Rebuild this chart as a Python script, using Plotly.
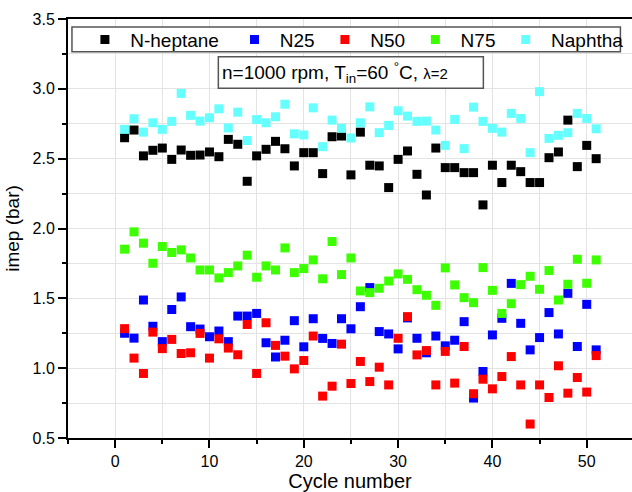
import plotly.graph_objects as go

cycles = [1, 2, 3, 4, 5, 6, 7, 8, 9, 10, 11, 12, 13, 14, 15, 16, 17, 18, 19, 20,
          21, 22, 23, 24, 25, 26, 27, 28, 29, 30, 31, 32, 33, 34, 35, 36, 37, 38, 39, 40,
          41, 42, 43, 44, 45, 46, 47, 48, 49, 50, 51]

heptane = [2.65, 2.705, 2.52, 2.56, 2.576, 2.495, 2.562, 2.524, 2.526, 2.548,
           2.514, 2.638, 2.603, 2.338, 2.52, 2.567, 2.624, 2.571, 2.448, 2.543,
           2.543, 2.393, 2.657, 2.662, 2.384, 2.69, 2.453, 2.448, 2.293, 2.495,
           2.555, 2.388, 2.24, 2.576, 2.436, 2.436, 2.40, 2.40, 2.169, 2.453,
           2.329, 2.453, 2.407, 2.329, 2.329, 2.507, 2.548, 2.776, 2.443, 2.595, 2.50]

n25 = [1.25, 1.215, 1.488, 1.30, 1.19, 1.42, 1.51, 1.297, 1.28, 1.225,
       1.266, 1.19, 1.373, 1.373, 1.392, 1.182, 1.08, 1.20, 1.34, 1.153,
       1.354, 1.213, 1.177, 1.354, 1.282, 1.44, 1.577, 1.262, 1.245, 1.138,
       1.36, 1.214, 1.11, 1.23, 1.16, 1.20, 1.333, 0.786, 0.976, 1.238,
       1.357, 1.607, 1.321, 1.131, 1.219, 1.398, 1.245, 1.536, 1.155, 1.457, 1.131]

n50 = [1.283, 1.072, 0.962, 1.258, 1.14, 1.206, 1.105, 1.11, 1.249, 1.072,
       1.21, 1.144, 1.096, 1.313, 0.962, 1.325, 1.163, 1.086, 0.995, 1.055,
       1.23, 0.80, 0.871, 1.172, 0.89, 1.048, 0.904, 1.007, 0.88, 1.214,
       1.369, 1.095, 1.126, 0.88, 1.12, 0.893, 1.155, 0.817, 0.921, 0.852,
       0.94, 1.083, 0.88, 0.60, 0.88, 0.79, 1.017, 0.821, 0.933, 0.829, 1.09]

n75 = [1.852, 1.976, 1.895, 1.751, 1.871, 1.828, 1.847, 1.789, 1.703, 1.703,
       1.646, 1.684, 1.732, 1.809, 1.651, 1.732, 1.703, 1.861, 1.684, 1.713,
       1.775, 1.64, 1.907, 1.670, 1.789, 1.553, 1.541, 1.572, 1.624, 1.675,
       1.636, 1.562, 1.522, 1.450, 1.718, 1.596, 1.505, 1.469, 1.720, 1.557,
       1.392, 1.462, 1.598, 1.658, 1.565, 1.699, 1.488, 1.601, 1.78, 1.608, 1.775]

naphtha = [2.71, 2.786, 2.69, 2.757, 2.71, 2.767, 2.967, 2.81, 2.769, 2.793,
           2.857, 2.72, 2.833, 2.63, 2.78, 2.757, 2.80, 2.89, 2.678, 2.67,
           2.864, 2.586, 2.776, 2.717, 2.648, 2.757, 2.871, 2.686, 2.738, 2.843,
           2.805, 2.767, 2.769, 2.705, 2.595, 2.781, 2.572, 2.869, 2.767, 2.717,
           2.69, 2.824, 2.788, 2.543, 2.98, 2.645, 2.667, 2.686, 2.824, 2.788, 2.714]

series_names = ["N-heptane", "N25", "N50", "N75", "Naphtha"]
series_values = [heptane, n25, n50, n75, naphtha]
series_colors = ["#000000", "#0000FF", "#FF0000", "#3CFF00", "#66FFFF"]
legend_pad_after = [2, 1, 1, 1, 0]

FONT = "Liberation Sans, Arial, sans-serif"
NB = "\u00a0"

fig = go.Figure()
for name, vals, col, pad in zip(series_names, series_values, series_colors, legend_pad_after):
    fig.add_trace(go.Scatter(
        x=cycles, y=vals, mode="markers", name=NB + name + NB * pad,
        marker=dict(symbol="square", size=9, color=col, line=dict(width=0)),
    ))

grid_col = "#E3E3E3"
fig.update_xaxes(
    range=[-5, 54.8], showline=True, linewidth=2, linecolor="black", mirror=True,
    tickmode="linear", tick0=0, dtick=10, ticks="outside", ticklen=8, tickwidth=2,
    tickcolor="black", showgrid=True, gridcolor=grid_col, gridwidth=1, zeroline=False,
    minor=dict(tick0=0, dtick=5, ticks="outside", ticklen=4, tickwidth=2,
               tickcolor="black", showgrid=True, gridcolor=grid_col, gridwidth=1),
    tickfont=dict(family=FONT, size=16, color="black"),
    title=dict(text="Cycle number", font=dict(family=FONT, size=20, color="black"), standoff=4),
)
fig.update_yaxes(
    range=[0.5, 3.5], showline=True, linewidth=2, linecolor="black", mirror=False,
    tickmode="linear", tick0=0.5, dtick=0.5, tickformat=".1f", ticks="outside",
    ticklen=8, tickwidth=2, tickcolor="black", showgrid=True, gridcolor=grid_col,
    gridwidth=1, zeroline=False,
    minor=dict(tick0=0.5, dtick=0.25, ticks="outside", ticklen=4, tickwidth=2,
               tickcolor="black", showgrid=True, gridcolor=grid_col, gridwidth=1),
    tickfont=dict(family=FONT, size=16, color="black"),
    title=dict(text="imep (bar)", font=dict(family=FONT, size=19, color="black"), standoff=8),
)

# legend frame and condition box
fig.add_shape(type="rect", xref="x", yref="y", x0=-4.58, x1=53.57, y0=3.266, y1=3.443,
              line=dict(color="#555555", width=1.5), fillcolor="white", layer="above")
fig.add_shape(type="rect", xref="x", yref="y", x0=10.94, x1=39.04, y0=3.004, y1=3.230,
              line=dict(color="#555555", width=1.5), fillcolor="white", layer="above")
fig.add_annotation(
    xref="x", yref="y", x=11.15, y=3.117, xanchor="left", yanchor="middle", showarrow=False,
    text="n=1000 rpm, T<sub>in</sub>=60 <sup>°</sup>C, <span style='font-size:15px'>λ=2</span>",
    font=dict(family=FONT, size=19, color="black"),
)

fig.update_layout(
    width=632, height=492,
    margin=dict(l=68, r=0, t=19, b=54),
    paper_bgcolor="white", plot_bgcolor="white",
    font=dict(family=FONT, color="black"),
    legend=dict(orientation="h", x=0.03, xanchor="left", y=0.951, yanchor="middle",
                bgcolor="rgba(0,0,0,0)", borderwidth=0,
                font=dict(family=FONT, size=19, color="black")),
)

fig.write_html("out.html")
